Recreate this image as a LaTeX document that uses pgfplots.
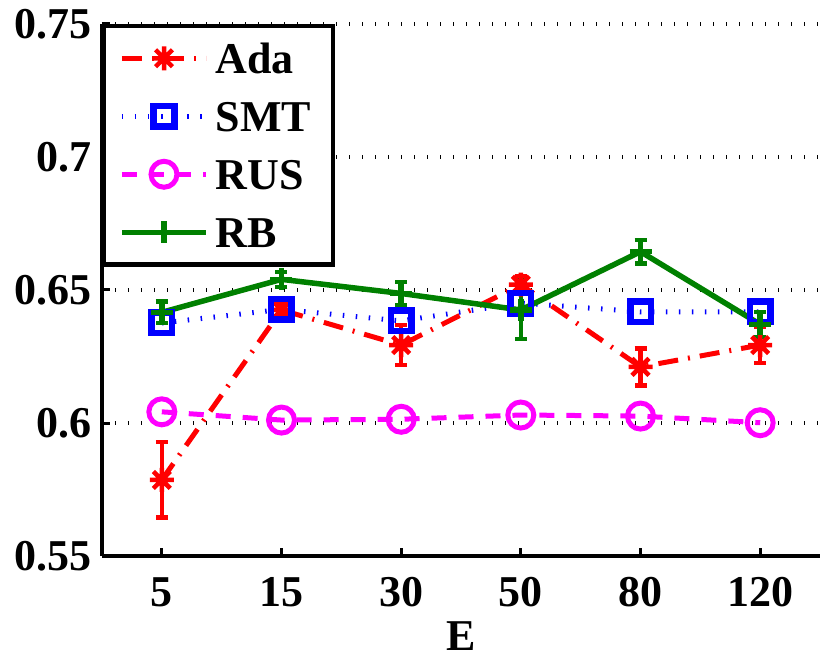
\documentclass[border=0pt]{standalone}
\usepackage{fontspec}
\setmainfont{Liberation Serif}
\usepackage{pgfplots}
\pgfplotsset{compat=1.18}
\definecolor{mgreen}{rgb}{0,0.5,0}
\definecolor{mred}{rgb}{1,0,0}
\definecolor{mblue}{rgb}{0,0,1}
\definecolor{mmag}{rgb}{1,0,1}
\pgfdeclareplotmark{mstar}{%
 \pgfpathmoveto{\pgfqpoint{-\pgfplotmarksize}{0pt}}\pgfpathlineto{\pgfqpoint{\pgfplotmarksize}{0pt}}%
 \pgfpathmoveto{\pgfqpoint{0pt}{-\pgfplotmarksize}}\pgfpathlineto{\pgfqpoint{0pt}{\pgfplotmarksize}}%
 \pgfpathmoveto{\pgfqpoint{-.7071\pgfplotmarksize}{-.7071\pgfplotmarksize}}\pgfpathlineto{\pgfqpoint{.7071\pgfplotmarksize}{.7071\pgfplotmarksize}}%
 \pgfpathmoveto{\pgfqpoint{-.7071\pgfplotmarksize}{.7071\pgfplotmarksize}}\pgfpathlineto{\pgfqpoint{.7071\pgfplotmarksize}{-.7071\pgfplotmarksize}}%
 \pgfusepathqstroke}
\newcommand{\bigb}{\fontsize{44}{44}\selectfont\bfseries}
\begin{document}
\begin{tikzpicture}
\useasboundingbox (-102pt,-116pt) rectangle (728pt,556pt);
\begin{axis}[
 scale only axis, width=718pt, height=532pt,
 xmin=0.5, xmax=6.5, ymin=0.55, ymax=0.75,
 axis lines*=left,
 axis line style={line width=4pt, black},
 xtick={1,2,3,4,5,6}, xticklabels={5,15,30,50,80,120},
 ytick={0.55,0.6,0.65,0.7,0.75}, yticklabels={0.55,0.6,0.65,0.7,0.75},
 tick align=inside, major tick length=8pt,
 tick style={line width=3pt, black},
 ymajorgrids,
 grid style={black, line width=4pt, dash pattern=on 1.3pt off 11.7pt},
 ticklabel style={font=\bigb},
 xticklabel style={anchor=north, inner sep=0pt, yshift=-21pt},
 yticklabel style={anchor=east, inner sep=0pt, xshift=-10pt},
 xlabel={E},
 xlabel style={font=\bigb, at={(axis description cs:0.5,0)}, anchor=north, inner sep=0pt, yshift=-65pt},
 legend style={at={(0,1)}, anchor=north west, draw=black, line width=4.5pt, fill=white,
   inner xsep=15pt, inner ysep=3pt, row sep=0pt, font=\bigb,
   nodes={inner xsep=7pt, inner ysep=14pt, text height=30pt, text depth=0pt}},
 legend cell align=left,
 legend image code/.code={\draw[mark repeat=2,mark phase=2,#1] plot coordinates {(0pt,0pt)(42pt,0pt)(84pt,0pt)};},
]
\addplot[mred, line width=5pt, dash pattern=on 20pt off 10pt on 2pt off 10pt,
  mark=mstar, mark size=12pt, mark options={solid, line width=4.5pt},
  error bars/.cd, y dir=both, y explicit,
  error bar style={solid, line width=4.5pt},
  error mark=-,
  error mark options={solid, line width=4.5pt, mark size=6pt, rotate=90}]
 coordinates {(1,0.5786) +- (0,0.0142) (2,0.6425) +- (0,0.002) (3,0.6293) +- (0,0.0075)
  (4,0.6520) +- (0,0.003) (5,0.6211) +- (0,0.007) (6,0.6293) +- (0,0.0068)};
\addlegendentry{Ada}
\addplot[mblue, line width=5pt, dash pattern=on 1.5pt off 11.5pt,
  mark=square, mark size=10.25pt, mark options={solid, line width=6.5pt}]
 coordinates {(1,0.6376) (2,0.6427) (3,0.6384) (4,0.6451) (5,0.6418) (6,0.6418)};
\addlegendentry{SMT}
\addplot[mmag, line width=5pt, dash pattern=on 15pt off 12pt,
  mark=o, mark size=13pt, mark options={solid, line width=5pt}]
 coordinates {(1,0.6042) (2,0.6011) (3,0.6014) (4,0.6030) (5,0.6026) (6,0.6001)};
\addlegendentry{RUS}
\addplot[mgreen, line width=5.5pt, solid,
  mark=+, mark size=11pt, mark options={solid, line width=5.5pt},
  error bars/.cd, y dir=both, y explicit,
  error bar style={solid, line width=4.5pt},
  error mark=-,
  error mark options={solid, line width=4.5pt, mark size=6pt, rotate=90}]
 coordinates {(1,0.6416) +- (0,0.004) (2,0.6540) +- (0,0.0028) (3,0.6487) +- (0,0.0044)
  (4,0.6425) +- (0,0.011) (5,0.6644) +- (0,0.0044) (6,0.6371) +- (0,0.0047)};
\addlegendentry{RB}
\end{axis}
\end{tikzpicture}
\end{document}
